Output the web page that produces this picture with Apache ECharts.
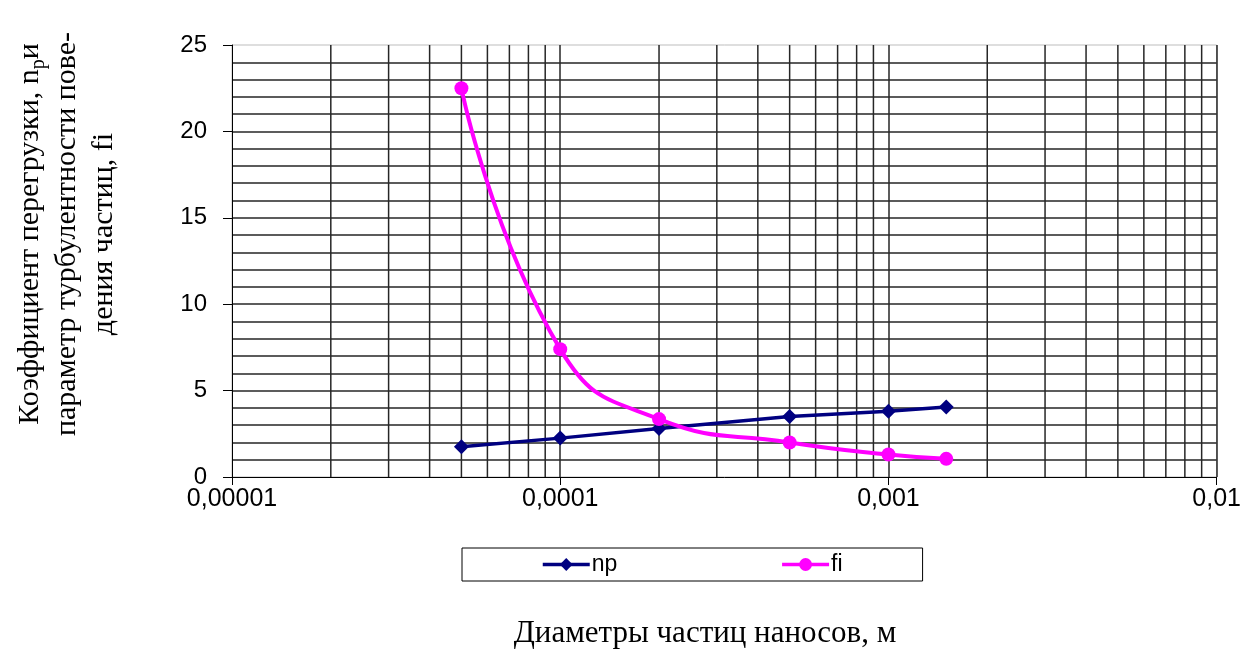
<!DOCTYPE html>
<html>
<head>
<meta charset="utf-8">
<script src="https://cdn.jsdelivr.net/npm/echarts@6/dist/echarts.min.js"></script>
<style>
html,body{margin:0;padding:0;background:#fff;}
#c{width:1244px;height:654px;}
</style>
</head>
<body>
<div id="c"></div>
<script>
var diameters = [0.00005, 0.0001, 0.0002, 0.0005, 0.001, 0.0015];
var npValues = [1.75, 2.25, 2.8, 3.5, 3.8, 4.05];
var fiValues = [22.5, 7.4, 3.35, 2.0, 1.3, 1.05];
var xMajorTicks = [0.00001, 0.0001, 0.001, 0.01];
var xTickLabels = ['0,00001', '0,0001', '0,001', '0,01'];
var xMinorGrid = [0.00002,0.00003,0.00004,0.00005,0.00006,0.00007,0.00008,0.00009,
                  0.0002,0.0003,0.0004,0.0005,0.0006,0.0007,0.0008,0.0009,
                  0.002,0.003,0.004,0.005,0.006,0.007,0.008,0.009];
var yRange = [0, 25];
var yTitleLines = ['Коэффициент перегрузки, n{sub|p}и', 'параметр турбулентности пове-', 'дения частиц, fi'];
var xTitle = 'Диаметры частиц наносов, м';

function pairs(xs, ys){ return xs.map(function(x,i){ return [x, ys[i]]; }); }
function labelFor(v){
  for (var i=0;i<xMajorTicks.length;i++){
    if (Math.abs(Math.log10(v) - Math.log10(xMajorTicks[i])) < 1e-6) return xTickLabels[i];
  }
  return '';
}
var minorGridData = [];
xMinorGrid.forEach(function(v){
  minorGridData.push([v, yRange[0]]);
  minorGridData.push([v, yRange[1]]);
  minorGridData.push([v, '-']);
});
var gridColor = '#262626';
var gridWidth = 1.5;
var chart = echarts.init(document.getElementById('c'), null, {renderer:'canvas'});
chart.setOption({
  backgroundColor:'#fff',
  animation:false,
  grid:{left:232, right:26, top:45, bottom:177, show:true, borderColor:'#bdbdbd', borderWidth:1, backgroundColor:'transparent'},
  xAxis:{
    type:'log', logBase:10, min:0.00001, max:0.01,
    axisLine:{show:true, onZero:false, lineStyle:{color:'#000', width:1}},
    axisTick:{show:true, length:8, lineStyle:{color:'#000'}},
    splitLine:{show:true, showMinLine:false, showMaxLine:false, lineStyle:{color:gridColor, width:gridWidth}},
    axisLabel:{formatter:function(v){return labelFor(v);}, fontFamily:'Arial, Liberation Sans', fontSize:25, color:'#000', margin:10}
  },
  yAxis:{
    type:'value', min:yRange[0], max:yRange[1], interval:5,
    axisLine:{show:true, lineStyle:{color:'#000', width:1}},
    axisTick:{show:true, length:9, lineStyle:{color:'#000'}},
    minorTick:{show:false, splitNumber:5},
    minorSplitLine:{show:true, lineStyle:{color:gridColor, width:gridWidth}},
    splitLine:{show:true, showMinLine:false, showMaxLine:false, lineStyle:{color:gridColor, width:gridWidth}},
    axisLabel:{fontFamily:'Arial, Liberation Sans', fontSize:24, color:'#000', margin:25}
  },
  legend:{
    left:462, top:548, orient:'horizontal',
    borderColor:'#000', borderWidth:1, padding:[5,80,5,79],
    itemGap:163, itemWidth:47, itemHeight:16,
    lineStyle:{width:3.5},
    textStyle:{fontFamily:'Arial, Liberation Sans', fontSize:23, color:'#000', padding:[0,0,0,-3]},
    data:['np','fi']
  },
  graphic:[
    {type:'text', x:67, y:234, rotation:Math.PI/2, style:{
      text: yTitleLines.join('\n'), fill:'#000', align:'center', verticalAlign:'middle',
      font:'30px "Liberation Serif", "Times New Roman", serif', lineHeight:37,
      rich:{sub:{fontSize:20, verticalAlign:'bottom', fontFamily:'Liberation Serif', lineHeight:37}}
    }},
    {type:'text', x:705, y:634, style:{
      text: xTitle, fill:'#000', align:'center', verticalAlign:'middle',
      font:'31px "Liberation Serif", "Times New Roman", serif'
    }}
  ],
  series:[
    {
      name:'minorGrid', type:'line', data:minorGridData, silent:true,
      symbol:'none', connectNulls:false, z:1,
      lineStyle:{color:gridColor, width:gridWidth}, itemStyle:{color:gridColor},
      emphasis:{disabled:true}, tooltip:{show:false}
    },
    {
      name:'np', type:'line', data:pairs(diameters, npValues),
      symbol:'diamond', symbolSize:15,
      lineStyle:{color:'#000080', width:3.5}, itemStyle:{color:'#000080'},
      z:4
    },
    {
      name:'fi', type:'line', data:pairs(diameters, fiValues),
      symbol:'circle', symbolSize:14, smooth:0.5,
      lineStyle:{color:'#ff00ff', width:4}, itemStyle:{color:'#ff00ff'},
      z:5
    }
  ]
});
</script>
</body>
</html>
